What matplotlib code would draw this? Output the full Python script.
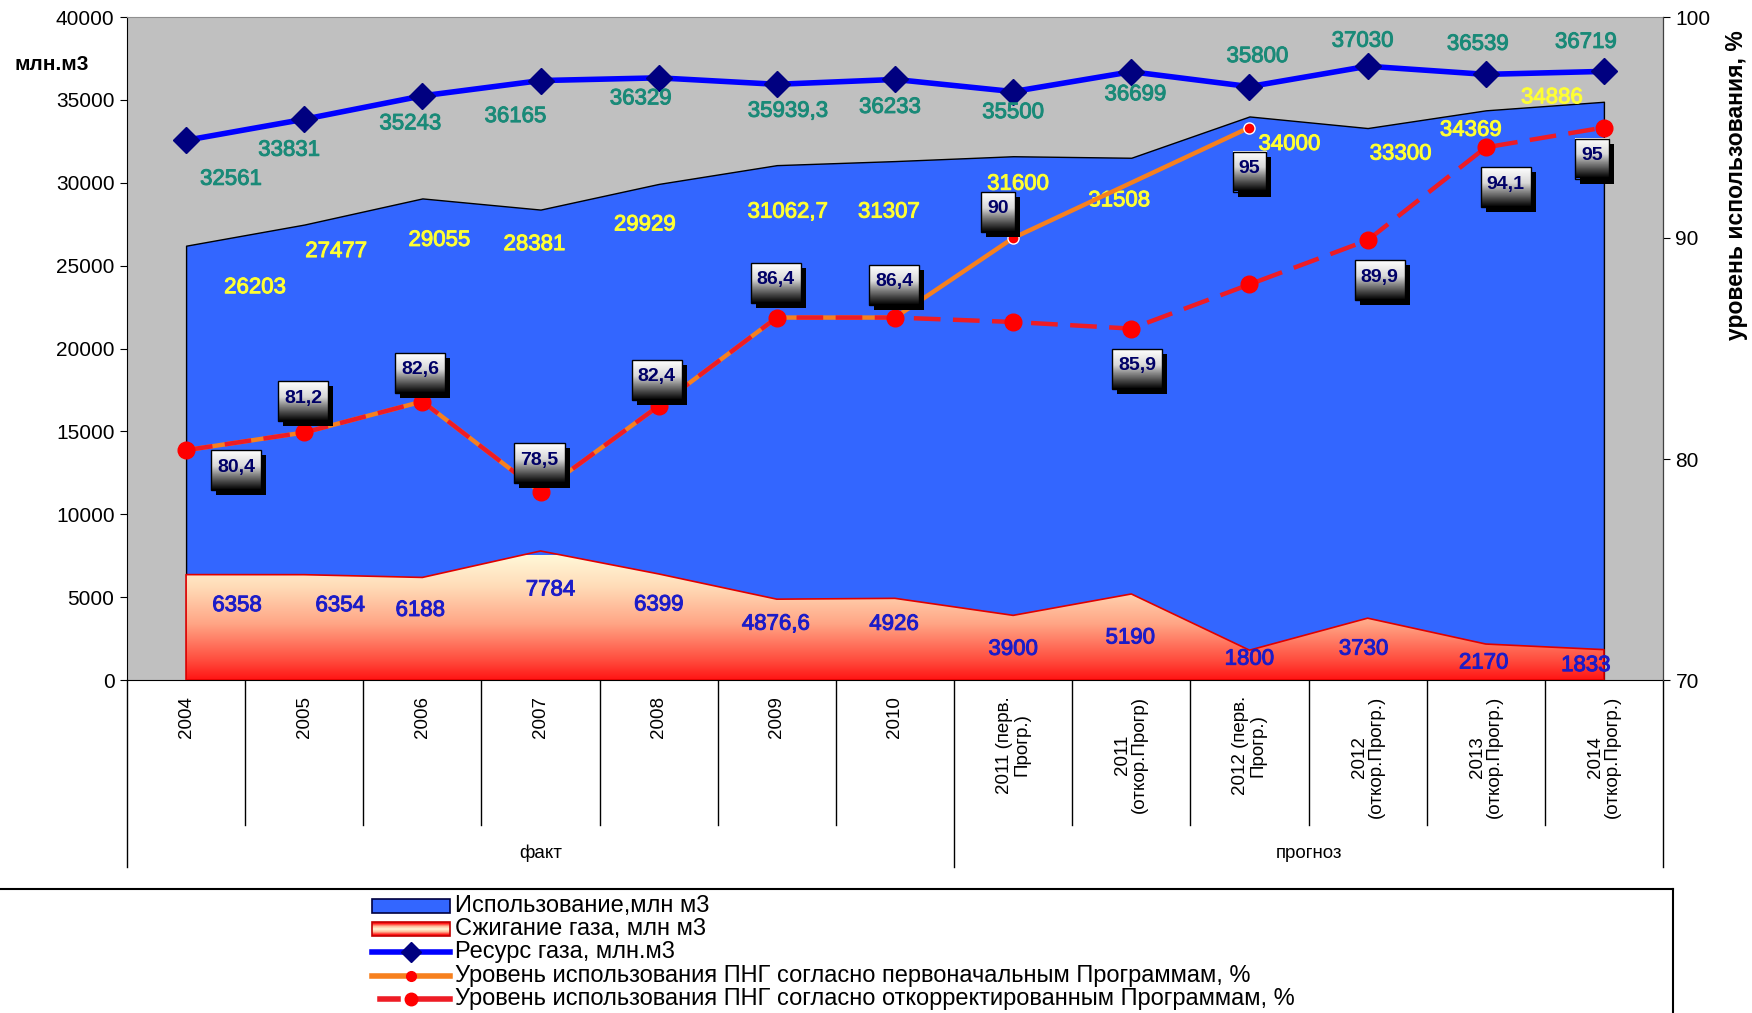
import numpy as np
import matplotlib
matplotlib.use('Agg')
import matplotlib.pyplot as plt
from matplotlib import font_manager
from matplotlib.colors import LinearSegmentedColormap
from matplotlib.patches import Rectangle
from matplotlib.lines import Line2D
from matplotlib.transforms import blended_transform_factory
import matplotlib.patheffects as pe

available = {f.name for f in font_manager.fontManager.ttflist}
REG = 'Liberation Sans' if 'Liberation Sans' in available else 'DejaVu Sans'
NARROW = 'Liberation Sans Narrow' if 'Liberation Sans Narrow' in available else REG

# ---------------- data ----------------
categories = ['2004', '2005', '2006', '2007', '2008', '2009', '2010',
              '2011 (перв.\nПрогр.)', '2011\n(откор.Прогр)', '2012 (перв.\nПрогр.)',
              '2012\n(откор.Прогр.)', '2013\n(откор.Прогр.)', '2014\n(откор.Прогр.)']
groups = ['факт', 'прогноз']
group_sizes = [7, 6]

usage = [26203, 27477, 29055, 28381, 29929, 31062.7, 31307, 31600, 31508, 34000, 33300, 34369, 34886]
flaring = [6358, 6354, 6188, 7784, 6399, 4876.6, 4926, 3900, 5190, 1800, 3730, 2170, 1833]
resource = [32561, 33831, 35243, 36165, 36329, 35939.3, 36233, 35500, 36699, 35800, 37030, 36539, 36719]
pct_initial = [80.4, 81.2, 82.6, 78.5, 82.4, 86.4, 86.4, 90, np.nan, 95, np.nan, np.nan, np.nan]
pct_corrected = [80.4, 81.2, 82.6, 78.5, 82.4, 86.4, 86.4, 86.2, 85.9, 87.9, 89.9, 94.1, 95]

# which series each percentage label comes from ('i' initial, 'c' corrected)
pct_label_src = ['i', 'i', 'i', 'i', 'i', 'i', 'i', 'i', 'c', 'i', 'c', 'c', 'c']

legend_labels = ['Использование,млн м3', 'Сжигание газа, млн м3', 'Ресурс газа, млн.м3',
                 'Уровень использования ПНГ согласно первоначальным Программам, %',
                 'Уровень использования ПНГ согласно откорректированным Программам, %']

# ---------------- label offsets (pixels) ----------------
res_dx = [45, -15, -12, -25, -18, 11, -5, 0, 4, 8, -5, -8, -18]
res_dy = [-39, -31, -28, -36, -21, -27, -28, -21, -23, 30, 25, 30, 29]
use_dx = [69, 32, 17, -6, -14, 11, -6, 5, -12, 40, 33, -15, -52]
use_dy = [-42, -27, -42, -35, -41, -47, -51, -28, -43, -28, -26, -20, 4]
fl_dx = [51, 36, -2, 10, 0, -1, -1, 0, -1, 0, -4, -2, -18]
fl_dy = [-31, -31, -33, -39, -31, -25, -26, -34, -44, -9, -31, -19, -16]
pct_dx = [50, -1, -2, -1, -2, -1, -1, -15, 6, 0, 12, 20, -12]
pct_dy = [-20, 31, 29, 29, 26, 35, 33, 26, -40, -44, -40, -40, -31]


def fmt(v):
    if float(v).is_integer():
        return str(int(v))
    return ('%g' % v).replace('.', ',')


W, H = 1752, 1013
fig = plt.figure(figsize=(W / 100, H / 100), dpi=100)
L, R, T, B = 127, 1663, 17, 680
ax = fig.add_axes([L / W, 1 - B / H, (R - L) / W, (B - T) / H])
ax.set_facecolor('#c0c0c0')
x = np.arange(len(categories))

ax.fill_between(x, 0, usage, facecolor='#3366ff', edgecolor='black', lw=1, zorder=2)
flare_poly = ax.fill_between(x, 0, flaring, facecolor='none', edgecolor='#e00000', lw=1.2, zorder=4)
fire = LinearSegmentedColormap.from_list('fire', [(0, '#ff1414'), (0.15, '#ff4a3c'), (0.45, '#ffa585'),
                                                  (0.75, '#ffdcb8'), (1, '#fff8d8')])
grad = np.linspace(0, 1, 256).reshape(-1, 1)
im = ax.imshow(grad, extent=(-0.5, 12.5, 0, 7500), origin='lower', cmap=fire, aspect='auto',
               zorder=3, interpolation='bilinear')
im.set_clip_path(flare_poly.get_paths()[0], transform=ax.transData)

ax.plot(x, resource, color='#0000ff', lw=4, marker='D', ms=13, mfc='#000080', mec='#000080', zorder=5)

ax.set_xlim(-0.5, 12.5)
ax.set_ylim(0, 40000)
ax.set_yticks(np.arange(0, 40001, 5000))
ax.set_xticks([])
ax.tick_params(axis='y', direction='out', length=5, labelsize=15, pad=4)
for lab in ax.get_yticklabels():
    lab.set_fontfamily(NARROW)
ax.spines['top'].set_color('#909090')
ax.spines['left'].set_color('black')
ax.spines['bottom'].set_color('black')

for i in range(len(x)):
    for val, dx, dy, col in ((resource[i], res_dx[i], res_dy[i], '#1a8a78'),
                             (usage[i], use_dx[i], use_dy[i], '#ffff33'),
                             (flaring[i], fl_dx[i], fl_dy[i], '#1c1cc8')):
        ax.annotate(fmt(val), xy=(i, val), xytext=(dx, dy),
                    textcoords='offset pixels', ha='center', va='center', fontsize=16,
                    color=col, family=REG, zorder=6,
                    path_effects=[pe.withStroke(linewidth=0.7, foreground=col)])

# category axis
trans = blended_transform_factory(ax.transData, ax.transAxes)
for i, c in enumerate(categories):
    ax.text(i, -0.024, c, rotation=90, ha='center', va='top', fontsize=13.5, family=REG,
            transform=trans, clip_on=False, multialignment='center', linespacing=1.0)
bounds = np.cumsum([0] + group_sizes) - 0.5
for k in range(len(categories) + 1):
    xk = -0.5 + k
    ybot = -0.282 if xk in bounds else -0.219
    ax.plot([xk, xk], [0, ybot], transform=trans, color='black', lw=1, clip_on=False)
for g, b0, b1 in zip(groups, bounds[:-1], bounds[1:]):
    ax.text((b0 + b1) / 2, -0.262, g, ha='center', va='center', fontsize=13.5, family=REG,
            transform=trans, clip_on=False)

# percentage axis
ax2 = ax.twinx()
ax2.set_ylim(70, 100)
ax2.set_yticks([70, 80, 90, 100])
ax2.tick_params(axis='y', direction='out', length=5, labelsize=15, pad=4)
for lab in ax2.get_yticklabels():
    lab.set_fontfamily(NARROW)
ax2.spines['right'].set_color('#404040')
ax2.spines['top'].set_visible(False)
ax2.spines['left'].set_visible(False)
ax2.spines['bottom'].set_visible(False)

pi = np.array(pct_initial, dtype=float)
pc = np.array(pct_corrected, dtype=float)
valid = ~np.isnan(pi)
ax2.plot(x[valid], pi[valid], color='#f7801e', lw=3.2, zorder=3)
ax2.plot(x[valid], pi[valid], ls='none', marker='o', ms=8, mfc='#ff0000', mec='white', mew=1, zorder=3.5)
ax2.plot(x, pc, color='#ee1c25', lw=3.2, ls=(0, (6, 2.8)), zorder=4)
ax2.plot(x, pc, ls='none', marker='o', ms=12, mfc='#ff0000', mec='#ff0000', zorder=4.5)
ax2.set_xlim(-0.5, 12.5)

# side labels
fig.text(52 / W, 1 - 65 / H, 'млн.м3', ha='center', va='center', fontsize=15, fontweight='bold', family=REG)
fig.text(1736 / W, 1 - 185 / H, 'уровень использования, %', ha='center', va='center', rotation=90,
         fontsize=16.5, fontweight='bold', family=REG)

# overlay for percentage boxes and legend
ov = fig.add_axes([0, 0, 1, 1], zorder=10)
ov.set_xlim(0, W)
ov.set_ylim(0, H)
ov.axis('off')
ov.patch.set_alpha(0)

texts = []
for i in range(len(x)):
    v = pi[i] if pct_label_src[i] == 'i' else pc[i]
    px, py = ax2.transData.transform((i, v))
    cx, cy = px + pct_dx[i], py + pct_dy[i]
    t = ov.text(cx, cy + 3, fmt(v), ha='center', va='center', fontsize=14, fontweight='bold',
                color='#000066', family=REG, zorder=5)
    texts.append((t, cx, cy))

fig.canvas.draw()
rend = fig.canvas.get_renderer()
box_cmap = LinearSegmentedColormap.from_list('box', [(0, '#000000'), (0.35, '#7a7a7a'), (0.6, '#d8d8d8'), (1, '#ffffff')])
bgrad = np.linspace(0, 1, 64).reshape(-1, 1)
for t, cx, cy in texts:
    bb = t.get_window_extent(rend)
    w = bb.width + 12
    h = 40
    x0 = cx - w / 2
    y0 = cy - h / 2
    ov.add_patch(Rectangle((x0 + 5, y0 - 5), w, h, facecolor='black', edgecolor='none', zorder=1))
    ov.imshow(bgrad, extent=(x0, x0 + w, y0, y0 + h), origin='lower', cmap=box_cmap, aspect='auto',
              zorder=2, interpolation='bilinear')
    ov.add_patch(Rectangle((x0, y0), w, h, facecolor='none', edgecolor='black', lw=1, zorder=3))

# legend
leg_y0 = 906
leg_dy = 23.2
hx0, hx1, tx = 372, 450, 455
for k, lab in enumerate(legend_labels):
    yy = H - (leg_y0 + k * leg_dy)
    if k == 0:
        ov.add_patch(Rectangle((hx0, yy - 7), hx1 - hx0, 14, facecolor='#3366ff', edgecolor='#000040', lw=1.2, zorder=3))
    elif k == 1:
        ov.imshow(np.array([[0.1], [0.6], [1.0], [0.6], [0.1]]), extent=(hx0, hx1, yy - 7, yy + 7), cmap=fire,
                  aspect='auto', zorder=2, interpolation='bilinear')
        ov.add_patch(Rectangle((hx0, yy - 7), hx1 - hx0, 14, facecolor='none', edgecolor='#c00000', lw=1.2, zorder=3))
    elif k == 2:
        ov.add_line(Line2D([hx0, hx1], [yy, yy], color='#0000ff', lw=4, zorder=3))
        ov.add_line(Line2D([(hx0 + hx1) / 2], [yy], marker='D', ms=10, mfc='#000080', mec='#000080', zorder=4))
    elif k == 3:
        ov.add_line(Line2D([hx0, hx1], [yy, yy], color='#f7801e', lw=4, zorder=3))
        ov.add_line(Line2D([(hx0 + hx1) / 2], [yy], marker='o', ms=7, mfc='#ff0000', mec='#ff0000', zorder=4))
    else:
        ov.add_line(Line2D([hx0 + 8, hx0 + 26], [yy, yy], color='#ee1c25', lw=4, zorder=3))
        ov.add_line(Line2D([hx0 + 38, hx1], [yy, yy], color='#ee1c25', lw=4, zorder=3))
        ov.add_line(Line2D([(hx0 + hx1) / 2], [yy], marker='o', ms=9, mfc='#ff0000', mec='#ff0000', zorder=4))
    ov.text(tx, yy, lab, ha='left', va='center', fontsize=17, family=NARROW, zorder=5)

ov.add_line(Line2D([0, 1673], [H - 889, H - 889], color='black', lw=1.5, zorder=3))
ov.add_line(Line2D([1673, 1673], [H - 889, 0], color='black', lw=1.5, zorder=3))
ov.set_xlim(0, W)
ov.set_ylim(0, H)

fig.savefig('out.png', dpi=100)
